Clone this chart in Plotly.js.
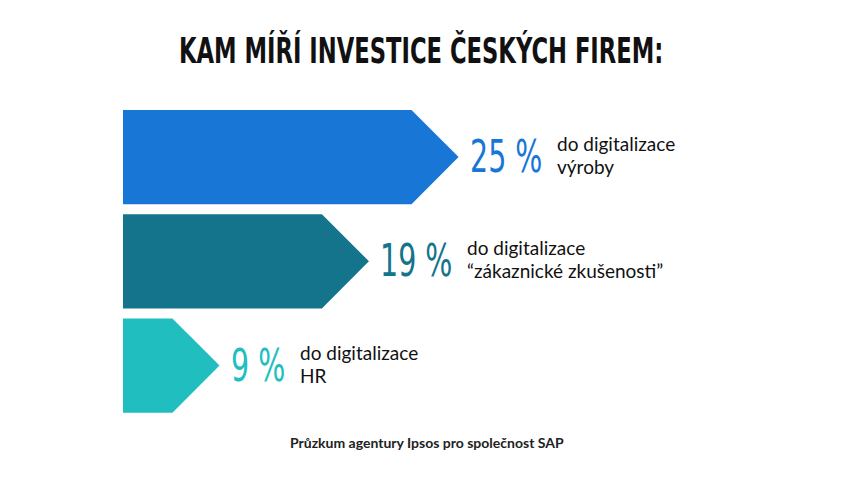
<!DOCTYPE html>
<html>
<head>
<meta charset="utf-8">
<script src="https://cdn.plot.ly/plotly-3.0.1.min.js"></script>
<style>html,body{margin:0;padding:0;background:#ffffff;}</style>
</head>
<body>
<div id="chart" style="width:850px;height:490px;"></div>
<script>
// ---- data ----
const titleText = 'KAM MÍŘÍ INVESTICE ČESKÝCH FIREM:';
const sourceText = 'Průzkum agentury Ipsos pro společnost SAP';
const categories = ['výroby', '“zákaznické zkušenosti”', 'HR'];
const labelPrefix = 'do digitalizace';
const values = [25, 19, 9];
const valueLabels = ['25 %', '19 %', '9 %'];
const colors = ['#1776d6', '#14748b', '#21bec0'];

// ---- style constants ----
const X0 = 2.54, X1 = 51.2;     // x-axis window (bars start at left edge)
const TIP = 3.15;               // arrow tip depth in value units
const HALF = 0.452;             // half bar thickness in category units
const COND_FONT = '"DejaVu Sans Condensed", "DejaVu Sans", sans-serif';
const TXT_FONT = 'Lato, "Open Sans", sans-serif';
// condensed look: glyphs drawn at a smaller size, then stretched vertically
const TITLE_SIZE = 36, TITLE_COND = 0.70;
const NUM_SIZE = 44, NUM_COND = 0.72;
const DESC_LINE_EM = 1.22;      // line spacing for the two-line captions

const traces = values.map((v, i) => ({
  type: 'scatter',
  mode: 'lines',
  x: [X0, v - TIP, v, v - TIP, X0, X0],
  y: [i - HALF, i - HALF, i, i + HALF, i + HALF, i - HALF],
  fill: 'toself',
  fillcolor: colors[i],
  line: {width: 0, color: colors[i]},
  hoverinfo: 'skip',
  showlegend: false
}));

const annotations = [];
const post = [];

annotations.push({
  xref: 'paper', yref: 'paper', x: 421 / 850, y: 1 - 50 / 490,
  xanchor: 'center', yanchor: 'middle', showarrow: false,
  text: titleText,
  font: {family: COND_FONT, size: TITLE_SIZE * TITLE_COND, color: '#111111', weight: 'bold'}
});
post.push({stretch: 1 / TITLE_COND});

values.forEach((v, i) => {
  annotations.push({
    x: v, y: i, xref: 'x', yref: 'y', xanchor: 'left', yanchor: 'middle',
    xshift: 9, yshift: 0, showarrow: false,
    text: valueLabels[i],
    font: {family: COND_FONT, size: NUM_SIZE * NUM_COND, color: colors[i]}
  });
  post.push({stretch: 1 / NUM_COND});
  const descShift = 9 + 15 + valueLabels[i].length * 18;
  annotations.push({
    x: v, y: i, xref: 'x', yref: 'y', xanchor: 'left', yanchor: 'middle', align: 'left',
    xshift: descShift, yshift: 1, showarrow: false,
    text: labelPrefix + '<br>' + categories[i],
    font: {family: TXT_FONT, size: 19, color: '#111111'}
  });
  post.push({lineEm: DESC_LINE_EM});
});

annotations.push({
  xref: 'paper', yref: 'paper', x: 427 / 850, y: 1 - 442 / 490,
  xanchor: 'center', yanchor: 'middle', showarrow: false,
  text: sourceText,
  font: {family: TXT_FONT, size: 14, color: '#222222', weight: 'bold'}
});
post.push(null);

const layout = {
  width: 850, height: 490,
  margin: {l: 0, r: 0, t: 0, b: 0, pad: 0},
  paper_bgcolor: '#ffffff', plot_bgcolor: '#ffffff',
  showlegend: false,
  xaxis: {domain: [123 / 850, 1], range: [X0, X1], visible: false, fixedrange: true},
  yaxis: {domain: [0, 1], range: [3.194, -1.506], visible: false, fixedrange: true},
  annotations: annotations
};

Plotly.newPlot('chart', traces, layout, {staticPlot: true, displayModeBar: false}).then(gd => {
  const svgRect = gd.querySelector('.main-svg').getBoundingClientRect();
  gd.querySelectorAll('g.annotation').forEach(g => {
    const idx = +g.getAttribute('data-index');
    const p = post[idx];
    if (!p) return;
    const t = g.querySelector('text.annotation-text');
    if (!t) return;
    if (p.stretch) {
      const r = t.getBoundingClientRect();
      const cy = r.top + r.height / 2 - svgRect.top;
      g.setAttribute('transform', 'translate(0,' + cy + ') scale(1,' + p.stretch + ') translate(0,' + (-cy) + ')');
    }
    if (p.lineEm) {
      t.querySelectorAll('tspan.line').forEach((ln, k) => {
        ln.setAttribute('dy', (k * p.lineEm) + 'em');
      });
    }
  });
});
</script>
</body>
</html>
